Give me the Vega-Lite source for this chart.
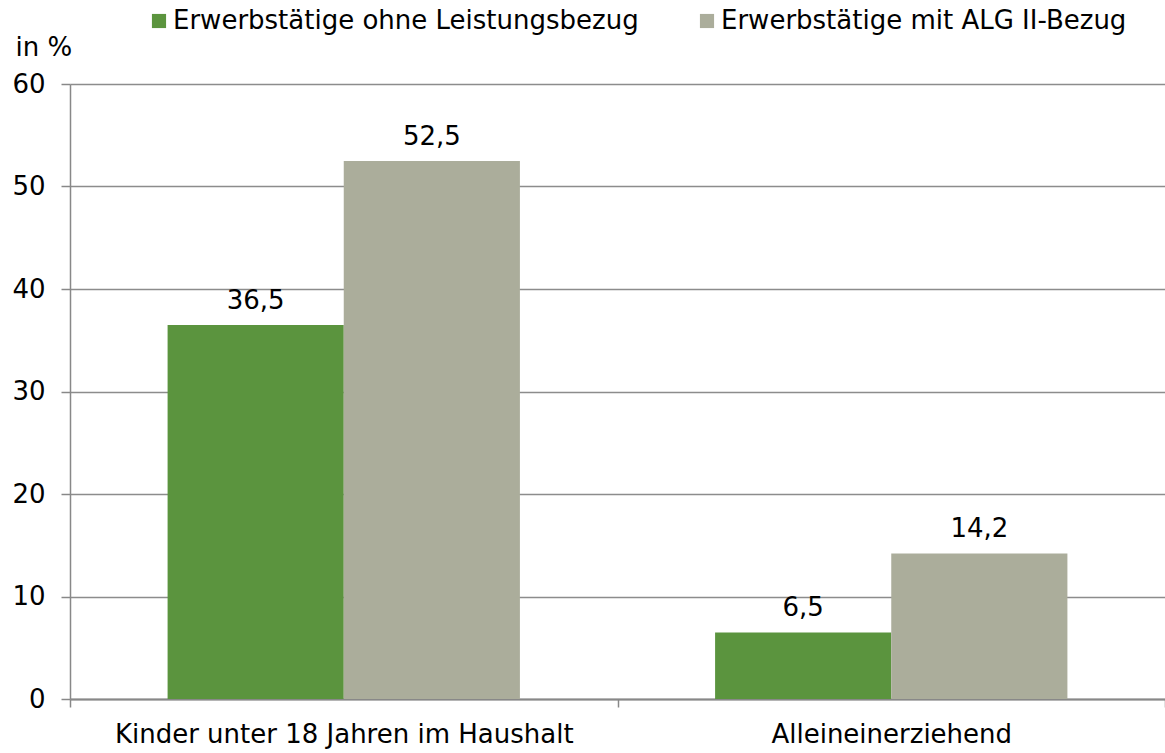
{
  "$schema": "https://vega.github.io/schema/vega-lite/v6.json",
  "width": 1095,
  "height": 615,
  "autosize": {"type": "none"},
  "padding": {"left": 70, "top": 84, "right": 0, "bottom": 54},
  "background": "white",
  "config": {
    "locale": {"number": {"decimal": ",", "thousands": ".", "grouping": [3], "currency": ["", " €"]}},
    "view": {"stroke": null},
    "font": "DejaVu Sans"
  },
  "data": {
    "values": [
      {"Kategorie": "Kinder unter 18 Jahren im Haushalt", "Gruppe": "Erwerbstätige ohne Leistungsbezug", "Wert": 36.5},
      {"Kategorie": "Kinder unter 18 Jahren im Haushalt", "Gruppe": "Erwerbstätige mit ALG II-Bezug", "Wert": 52.5},
      {"Kategorie": "Alleineinerziehend", "Gruppe": "Erwerbstätige ohne Leistungsbezug", "Wert": 6.5},
      {"Kategorie": "Alleineinerziehend", "Gruppe": "Erwerbstätige mit ALG II-Bezug", "Wert": 14.2}
    ]
  },
  "encoding": {
    "x": {
      "field": "Kategorie", "type": "nominal", "sort": null,
      "scale": {"paddingInner": 0, "paddingOuter": 0},
      "axis": {
        "title": null, "labelAngle": 0, "labelFontSize": 26, "labelColor": "#000000", "labelLimit": 0,
        "labelPadding": 14, "tickBand": "extent", "tickSize": 8, "tickColor": "#888888", "tickWidth": 1.5,
        "domainColor": "#888888", "domainWidth": 2, "grid": false
      }
    },
    "xOffset": {
      "field": "Gruppe", "type": "nominal",
      "sort": ["Erwerbstätige ohne Leistungsbezug", "Erwerbstätige mit ALG II-Bezug"],
      "scale": {"paddingInner": 0, "paddingOuter": 0.554}
    }
  },
  "layer": [
    {
      "mark": {"type": "bar"},
      "encoding": {
        "y": {
          "field": "Wert", "type": "quantitative",
          "scale": {"domain": [0, 60]},
          "axis": {
            "values": [0, 10, 20, 30, 40, 50, 60],
            "title": "in %", "titleAngle": 0, "titleFontSize": 26, "titleFontWeight": "normal",
            "titleColor": "#000000", "titleX": -55, "titleY": -37, "titleAlign": "left", "titleBaseline": "middle",
            "labelFontSize": 26, "labelColor": "#000000", "labelPadding": 16,
            "tickSize": 9, "tickColor": "#888888", "tickWidth": 1.5,
            "domainColor": "#888888", "domainWidth": 1.5,
            "grid": true, "gridColor": "#8c8c8c", "gridWidth": 1.5
          }
        },
        "color": {
          "field": "Gruppe", "type": "nominal",
          "scale": {"domain": ["Erwerbstätige ohne Leistungsbezug", "Erwerbstätige mit ALG II-Bezug"], "range": ["#5b943e", "#abad9b"]},
          "legend": {
            "title": null, "orient": "none", "direction": "horizontal",
            "legendX": 76, "legendY": -76,
            "symbolType": "square", "symbolSize": 200, "symbolStrokeWidth": 0,
            "labelFontSize": 26, "labelColor": "#000000", "labelOffset": 1,
            "columnPadding": 55, "labelLimit": 600
          }
        }
      }
    },
    {
      "mark": {"type": "text", "baseline": "bottom", "dy": -11, "fontSize": 26, "color": "#000000"},
      "encoding": {
        "y": {"field": "Wert", "type": "quantitative"},
        "text": {"field": "Wert", "type": "quantitative", "format": ".1f"}
      }
    }
  ]
}
